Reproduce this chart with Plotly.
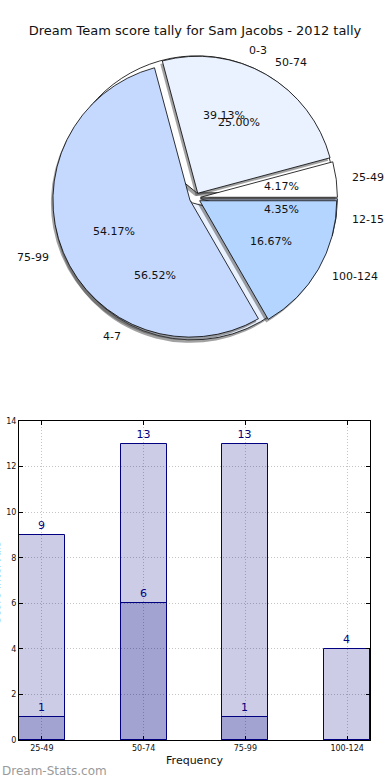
import math
import plotly.graph_objects as go

# ---------------- data ----------------
TITLE = "Dream Team score tally for Sam Jacobs - 2012 tally"

inner_labels = ["0-3", "4-7", "12-15"]
inner_counts = [9, 13, 1]
inner_colors = ["#ffffff", "#eaf2ff", "#c5d9ff"]

outer_labels = ["25-49", "50-74", "75-99", "100-124"]
outer_counts = [1, 6, 13, 4]
outer_colors = ["#ffffff", "#eaf2ff", "#c5d9ff", "#b4d5ff"]

bar_categories = ["25-49", "50-74", "75-99", "100-124"]
bar_totals = [9, 13, 13, 4]
bar_subset = [1, 6, 1, 0]
y_ticks = [0, 2, 4, 6, 8, 10, 12, 14]

X_TITLE = "Frequency"
Y_TITLE = "Score Intervals"
WATERMARK = "Dream-Stats.com"

# ---------------- layout constants ----------------
W, H = 390, 780
FONT = "DejaVu Sans"
CX, CY, R, PULL = 195, 198, 137, 0.04
HALF = R * (1 + PULL)
SH_DX, SH_DY = -2, 3


def px(x):
    return x / W


def py(y):
    return 1 - y / H


def domain(cx, cy):
    return dict(x=[px(cx - HALF), px(cx + HALF)], y=[py(cy + HALF), py(cy - HALF)])


fig = go.Figure()


def add_pie(labels, counts, colors):
    n = len(counts)
    # counterclockwise pies in plotly end their first slice at `rotation`;
    # shift so that the first slice starts at 3 o'clock (matplotlib default)
    rot = 90 - 360.0 * counts[0] / sum(counts)
    fig.add_trace(go.Pie(
        labels=labels, values=counts, sort=False, direction="counterclockwise",
        rotation=rot, pull=[PULL] * n, textinfo="none", hoverinfo="skip",
        showlegend=False, domain=domain(CX + SH_DX, CY + SH_DY),
        marker=dict(colors=["rgba(70,70,70,0.5)"] * n, line=dict(width=0)),
    ))
    fig.add_trace(go.Pie(
        labels=labels, values=counts, sort=False, direction="counterclockwise",
        rotation=rot, pull=[PULL] * n, textinfo="none", hoverinfo="label+percent",
        showlegend=False, domain=domain(CX, CY),
        marker=dict(colors=colors, line=dict(color="black", width=0.8)),
    ))


def pie_texts(labels, counts):
    total = sum(counts)
    start = 0.0
    out = []
    for lab, c in zip(labels, counts):
        frac = c / total
        mid = math.radians(start + frac * 180.0)
        start += frac * 360.0
        cosm, sinm = math.cos(mid), math.sin(mid)
        rp = (0.6 + PULL) * R
        out.append(dict(
            x=px(CX + rp * cosm), y=py(CY - rp * sinm), text="%.2f%%" % (frac * 100),
            xref="paper", yref="paper", showarrow=False,
            xanchor="center", yanchor="middle",
            font=dict(family=FONT, size=11, color="#111111"),
        ))
        rl = (1.1 + PULL) * R
        out.append(dict(
            x=px(CX + rl * cosm), y=py(CY - rl * sinm), text=lab,
            xref="paper", yref="paper", showarrow=False,
            xanchor="left" if cosm > 0 else "right", yanchor="middle",
            font=dict(family=FONT, size=11, color="#111111"),
        ))
    return out


add_pie(inner_labels, inner_counts, inner_colors)
add_pie(outer_labels, outer_counts, outer_colors)

annotations = pie_texts(inner_labels, inner_counts) + pie_texts(outer_labels, outer_counts)

# ---------------- bars ----------------
BAR_FILL = "rgba(0,0,128,0.2)"
for vals in (bar_totals, bar_subset):
    fig.add_trace(go.Bar(
        x=bar_categories, y=vals, width=0.45,
        marker=dict(color=BAR_FILL, line=dict(color="#000080", width=1)),
        text=[str(v) if v else "" for v in vals], textposition="outside",
        textfont=dict(family=FONT, size=11, color="#000080"),
        cliponaxis=False, showlegend=False, xaxis="x", yaxis="y",
    ))

annotations.append(dict(
    x=px(4), y=py(583), xref="paper", yref="paper", text=Y_TITLE, textangle=-90,
    showarrow=False, xanchor="right", yanchor="middle",
    font=dict(family=FONT, size=11, color="#111111"),
))
annotations.append(dict(
    x=0, y=py(771), xref="paper", yref="paper", text=WATERMARK,
    showarrow=False, xanchor="left", yanchor="middle",
    font=dict(family=FONT, size=12, color="#9a9a9a"),
))

axis_common = dict(
    showline=True, linecolor="black", linewidth=1, mirror="ticks",
    ticks="inside", ticklen=4, tickcolor="black", automargin=False,
    showgrid=True, gridcolor="#c4c4c4", griddash="1px,2px", gridwidth=1,
    zeroline=False, tickfont=dict(family=FONT, size=8, color="#111111"),
)

fig.update_layout(
    template="none",
    width=W, height=H, margin=dict(l=0, r=0, t=0, b=0, pad=0), autosize=False,
    paper_bgcolor="white", plot_bgcolor="white",
    barmode="overlay", bargap=0,
    title=dict(text=TITLE, x=0.5, xanchor="center", y=py(30), yanchor="middle",
               font=dict(family=FONT, size=13, color="#111111")),
    xaxis=dict(domain=[px(19), px(370)], anchor="y", type="category",
               range=[-0.225, 3.225],
               title=dict(text=X_TITLE, standoff=4, font=dict(family=FONT, size=11, color="#111111")),
               **axis_common),
    yaxis=dict(domain=[py(740), py(421)], anchor="x", range=[0, 14], tickvals=y_ticks,
               **axis_common),
    annotations=annotations,
    font=dict(family=FONT),
)

fig.write_html("out.html", config={"displayModeBar": False},
               post_script="document.body.style.margin='0px';")
